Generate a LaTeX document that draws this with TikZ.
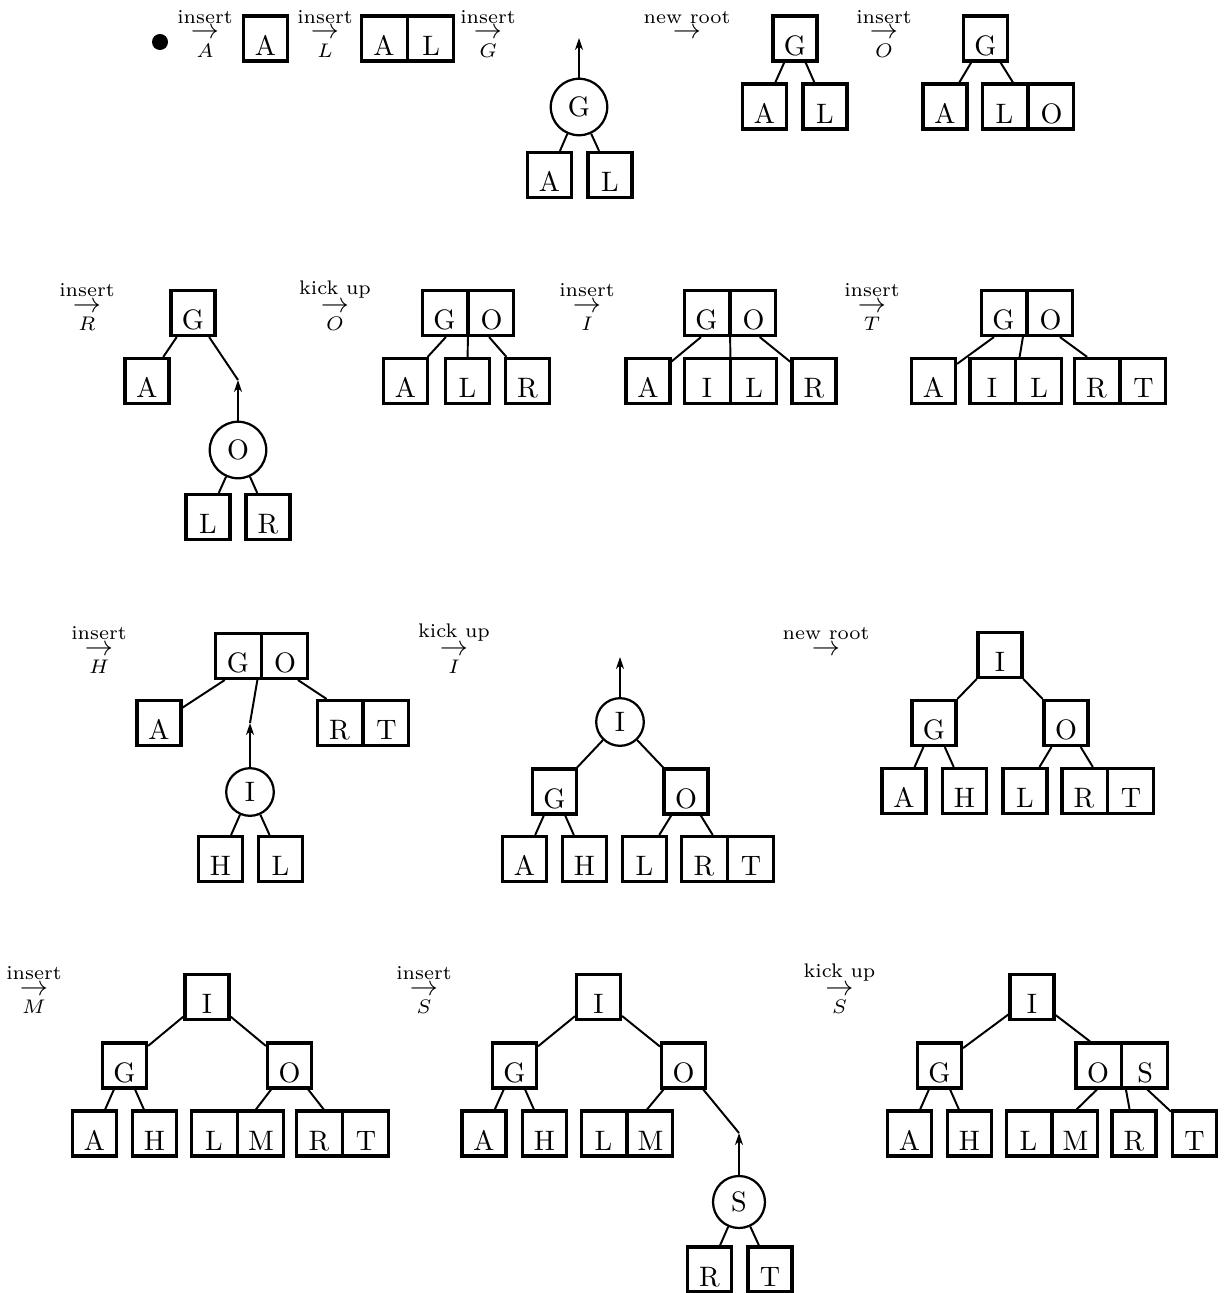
\documentclass[tikz,border=0pt]{standalone}
\usepackage{amsmath}
\usetikzlibrary{shapes.multipart, arrows.meta}

\newcommand{\kk}[1]{\makebox[0.55cm]{\rule[-0.075cm]{0pt}{0.5625cm}#1}}
\newcommand{\stepop}[2]{$\overset{\text{#1}}{\underset{#2}{\rightarrow}}$}

\begin{document}
\begin{tikzpicture}[x=0.0125cm,y=-0.0125cm,
        kb/.style={draw,line width=1.1pt,rectangle split,rectangle split horizontal,
                   rectangle split parts=#1,inner xsep=0pt,inner ysep=0pt},
        kb/.default=1,
        kick/.style={draw,circle,line width=0.8pt},
        lk/.style={line width=0.7pt},
        arr/.style={-{Stealth[length=4.2pt,width=2.8pt,inset=1.2pt]},line width=0.7pt},
        op/.style={anchor=base,inner sep=0pt}
      ]
        \useasboundingbox (0,0) rectangle (1225,1293);
        % row 1
        \node[circle,fill,inner sep=0pt,minimum size=0.2cm] (d0) at (160,42) {};
        \node[op] (o1) at (205,39) {\stepop{insert}{A}};
        \node[kb] (t1r) at (265.5,38.5) {\kk{A}};
        \node[op] (o2) at (325,39) {\stepop{insert}{L}};
        \node[kb=2] (t2r) at (407.5,38.5) {\kk{A}\nodepart{two}\kk{L}};
        \node[op] (o3) at (488,39) {\stepop{insert}{G}};
        \coordinate (t3u) at (579,38);
        \node[kick] (t3r) at (579,107) {G};
        \node[kb] (t3a) at (549.5,175) {\kk{A}};
        \node[kb] (t3b) at (610,175) {\kk{L}};
        \draw[arr] (t3r)--(t3u);
        \draw[lk] (t3r)--(t3a); \draw[lk] (t3r)--(t3b);
        \node[op] (o4) at (687,39) {\stepop{new root}{}};
        \node[kb] (t4r) at (795,38.5) {\kk{G}};
        \node[kb] (t4a) at (764.5,106.5) {\kk{A}};
        \node[kb] (t4b) at (825,106.5) {\kk{L}};
        \draw[lk] (t4r)--(t4a); \draw[lk] (t4r)--(t4b);
        \node[op] (o5) at (884,39) {\stepop{insert}{O}};
        \node[kb] (t5r) at (985.5,38.5) {\kk{G}};
        \node[kb] (t5a) at (945,106.5) {\kk{A}};
        \node[kb=2] (t5b) at (1028,106.5) {\kk{L}\nodepart{two}\kk{O}};
        \draw[lk] (t5r)--(t5a); \draw[lk] (t5r)--(t5b);
        % row 2
        \node[op] (o6) at (87,312) {\stepop{insert}{R}};
        \node[kb] (t6r) at (193,313) {\kk{G}};
        \node[kb] (t6a) at (147,381) {\kk{A}};
        \coordinate (t6u) at (238,380);
        \node[kick] (t6k) at (238,450) {O};
        \node[kb] (t6b) at (208,517) {\kk{L}};
        \node[kb] (t6c) at (268,517) {\kk{R}};
        \draw[lk] (t6r)--(t6a); \draw[lk] (t6r)--(t6u);
        \draw[arr] (t6k)--(t6u);
        \draw[lk] (t6k)--(t6b); \draw[lk] (t6k)--(t6c);
        \node[op] (o7) at (335,312) {\stepop{kick up}{O}};
        \node[kb=2] (t7r) at (468,313) {\kk{G}\nodepart{two}\kk{O}};
        \node[kb] (t7a) at (405.5,381) {\kk{A}};
        \node[kb] (t7b) at (467.5,381) {\kk{L}};
        \node[kb] (t7c) at (527.5,381) {\kk{R}};
        \draw[lk] (t7r)--(t7a); \draw[lk] (t7r)--(t7b); \draw[lk] (t7r)--(t7c);
        \node[op] (o8) at (587,312) {\stepop{insert}{I}};
        \node[kb=2] (t8r) at (730,313) {\kk{G}\nodepart{two}\kk{O}};
        \node[kb] (t8a) at (648,381) {\kk{A}};
        \node[kb=2] (t8b) at (730.5,381) {\kk{I}\nodepart{two}\kk{L}};
        \node[kb] (t8c) at (814,381) {\kk{R}};
        \draw[lk] (t8r)--(t8a); \draw[lk] (t8r)--(t8b); \draw[lk] (t8r)--(t8c);
        \node[op] (o9) at (872,312) {\stepop{insert}{T}};
        \node[kb=2] (t9r) at (1027,313) {\kk{G}\nodepart{two}\kk{O}};
        \node[kb] (t9a) at (933.5,381) {\kk{A}};
        \node[kb=2] (t9b) at (1015.5,381) {\kk{I}\nodepart{two}\kk{L}};
        \node[kb=2] (t9c) at (1120,381) {\kk{R}\nodepart{two}\kk{T}};
        \draw[lk] (t9r)--(t9a); \draw[lk] (t9r)--(t9b); \draw[lk] (t9r)--(t9c);
        % row 3
        \node[op] (o10) at (99,655) {\stepop{insert}{H}};
        \node[kb=2] (t10r) at (261.5,656) {\kk{G}\nodepart{two}\kk{O}};
        \node[kb] (t10a) at (159,723) {\kk{A}};
        \coordinate (t10u) at (250,723);
        \node[kb=2] (t10c) at (363,723) {\kk{R}\nodepart{two}\kk{T}};
        \node[kick] (t10k) at (250,792) {I};
        \node[kb] (t10d) at (220.5,859) {\kk{H}};
        \node[kb] (t10e) at (280.5,859) {\kk{L}};
        \draw[lk] (t10r)--(t10a); \draw[lk] (t10r)--(t10u); \draw[lk] (t10r)--(t10c);
        \draw[arr] (t10k)--(t10u);
        \draw[lk] (t10k)--(t10d); \draw[lk] (t10k)--(t10e);
        \node[op] (o11) at (454,655) {\stepop{kick up}{I}};
        \coordinate (t11u) at (620,657);
        \node[kick] (t11k) at (620,722) {I};
        \node[kb] (t11g) at (554.5,791.5) {\kk{G}};
        \node[kb] (t11o) at (686,791.5) {\kk{O}};
        \node[kb] (t11a) at (524.5,859) {\kk{A}};
        \node[kb] (t11b) at (584.5,859) {\kk{H}};
        \node[kb] (t11c) at (644.5,859) {\kk{L}};
        \node[kb=2] (t11d) at (727.5,859) {\kk{R}\nodepart{two}\kk{T}};
        \draw[arr] (t11k)--(t11u);
        \draw[lk] (t11k)--(t11g); \draw[lk] (t11k)--(t11o);
        \draw[lk] (t11g)--(t11a); \draw[lk] (t11g)--(t11b);
        \draw[lk] (t11o)--(t11c); \draw[lk] (t11o)--(t11d);
        \node[op] (o12) at (826,655) {\stepop{new root}{}};
        \node[kb] (t12r) at (1000,655) {\kk{I}};
        \node[kb] (t12g) at (934,723) {\kk{G}};
        \node[kb] (t12o) at (1066,723) {\kk{O}};
        \node[kb] (t12a) at (904,791) {\kk{A}};
        \node[kb] (t12b) at (964.5,791) {\kk{H}};
        \node[kb] (t12c) at (1025,791) {\kk{L}};
        \node[kb=2] (t12d) at (1107.5,791) {\kk{R}\nodepart{two}\kk{T}};
        \draw[lk] (t12r)--(t12g); \draw[lk] (t12r)--(t12o);
        \draw[lk] (t12g)--(t12a); \draw[lk] (t12g)--(t12b);
        \draw[lk] (t12o)--(t12c); \draw[lk] (t12o)--(t12d);
        % row 4
        \node[op] (o13) at (34,995) {\stepop{insert}{M}};
        \node[kb] (t13r) at (207,997) {\kk{I}};
        \node[kb] (t13g) at (124.5,1065.5) {\kk{G}};
        \node[kb] (t13o) at (289.5,1065.5) {\kk{O}};
        \node[kb] (t13a) at (94.5,1133.5) {\kk{A}};
        \node[kb] (t13b) at (154.5,1133.5) {\kk{H}};
        \node[kb=2] (t13c) at (237.5,1133.5) {\kk{L}\nodepart{two}\kk{M}};
        \node[kb=2] (t13d) at (342.5,1133.5) {\kk{R}\nodepart{two}\kk{T}};
        \draw[lk] (t13r)--(t13g); \draw[lk] (t13r)--(t13o);
        \draw[lk] (t13g)--(t13a); \draw[lk] (t13g)--(t13b);
        \draw[lk] (t13o)--(t13c); \draw[lk] (t13o)--(t13d);
        \node[op] (o14) at (424,995) {\stepop{insert}{S}};
        \node[kb] (t14r) at (598.5,997) {\kk{I}};
        \node[kb] (t14g) at (514.5,1065.5) {\kk{G}};
        \node[kb] (t14o) at (683.5,1065.5) {\kk{O}};
        \node[kb] (t14a) at (484,1133.5) {\kk{A}};
        \node[kb] (t14b) at (544.5,1133.5) {\kk{H}};
        \node[kb=2] (t14c) at (627,1133.5) {\kk{L}\nodepart{two}\kk{M}};
        \coordinate (t14u) at (739,1133);
        \node[kick] (t14k) at (739,1202) {S};
        \node[kb] (t14d) at (709.5,1269.5) {\kk{R}};
        \node[kb] (t14e) at (770,1269.5) {\kk{T}};
        \draw[lk] (t14r)--(t14g); \draw[lk] (t14r)--(t14o);
        \draw[lk] (t14g)--(t14a); \draw[lk] (t14g)--(t14b);
        \draw[lk] (t14o)--(t14c); \draw[lk] (t14o)--(t14u);
        \draw[arr] (t14k)--(t14u);
        \draw[lk] (t14k)--(t14d); \draw[lk] (t14k)--(t14e);
        \node[op] (o15) at (839.5,995) {\stepop{kick up}{S}};
        \node[kb] (t15r) at (1032,997) {\kk{I}};
        \node[kb] (t15g) at (939.5,1065.5) {\kk{G}};
        \node[kb=2] (t15o) at (1121.5,1065.5) {\kk{O}\nodepart{two}\kk{S}};
        \node[kb] (t15a) at (909.5,1133.5) {\kk{A}};
        \node[kb] (t15b) at (969.5,1133.5) {\kk{H}};
        \node[kb=2] (t15c) at (1052,1133.5) {\kk{L}\nodepart{two}\kk{M}};
        \node[kb] (t15d) at (1134,1133.5) {\kk{R}};
        \node[kb] (t15e) at (1194.5,1133.5) {\kk{T}};
        \draw[lk] (t15r)--(t15g); \draw[lk] (t15r)--(t15o);
        \draw[lk] (t15g)--(t15a); \draw[lk] (t15g)--(t15b);
        \draw[lk] (t15o)--(t15c); \draw[lk] (t15o)--(t15d); \draw[lk] (t15o)--(t15e);
      \end{tikzpicture}
\end{document}
